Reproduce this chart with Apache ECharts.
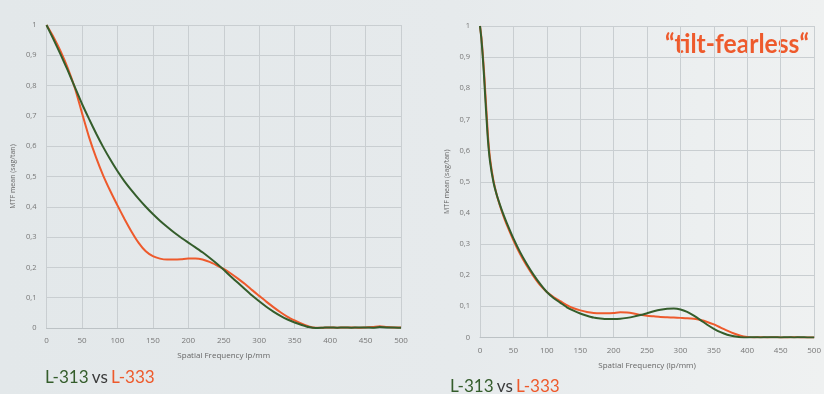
<!DOCTYPE html>
<html><head><meta charset="utf-8">
<script src="https://cdn.jsdelivr.net/npm/echarts@6/dist/echarts.min.js"></script>
<style>html,body{margin:0;padding:0;background:#e6eaec}#c{width:824px;height:394px}</style>
</head><body><div id="c"></div>
<script>
// Left chart: spatial frequency (lp/mm)
const xLeft = [0,10,20,30,40,50,60,70,80,90,100,110,120,130,140,150,160,170,180,190,200,210,220,230,240,250,260,270,280,290,300,310,320,330,340,350,360,370,380,390,400,410,420,430,440,450,460,470,480,490,500];
const leftL313 = [1.0,0.952,0.902,0.85,0.795,0.74,0.69,0.642,0.597,0.556,0.518,0.484,0.454,0.426,0.4,0.376,0.354,0.334,0.315,0.298,0.282,0.266,0.25,0.232,0.213,0.192,0.17,0.149,0.128,0.107,0.088,0.07,0.054,0.04,0.028,0.018,0.01,0.003,0.0,0.001,0.002,0.001,0.002,0.001,0.002,0.002,0.001,0.003,0.002,0.002,0.001];
const leftL333 = [1.0,0.96,0.913,0.858,0.792,0.71,0.63,0.562,0.503,0.452,0.405,0.36,0.318,0.281,0.253,0.237,0.229,0.226,0.226,0.227,0.229,0.229,0.226,0.218,0.207,0.195,0.18,0.163,0.145,0.125,0.106,0.087,0.069,0.052,0.037,0.025,0.014,0.005,0.001,0.001,0.002,0.001,0.002,0.002,0.001,0.002,0.003,0.006,0.003,0.002,0.002];
// Right chart ("tilt-fearless")
const xRight = [0,2,4,6,8,10,12,15,20,25,30,35,40,50,60,70,80,90,100,110,120,130,140,150,160,170,180,190,200,210,220,230,240,250,260,270,280,290,300,310,320,330,340,350,360,370,380,390,400,410,420,430,440,450,460,470,480,490,500];
const rightL313 = [1.0,0.96,0.905,0.84,0.765,0.695,0.63,0.565,0.5,0.458,0.425,0.395,0.368,0.318,0.274,0.236,0.202,0.172,0.146,0.127,0.112,0.097,0.086,0.077,0.07,0.064,0.061,0.059,0.059,0.06,0.063,0.067,0.072,0.078,0.084,0.089,0.092,0.093,0.09,0.082,0.07,0.056,0.041,0.028,0.017,0.009,0.004,0.001,0.0,0.001,0.0,0.001,0.001,0.0,0.001,0.0,0.001,0.0,0.0];
const rightL333 = [1.0,0.965,0.915,0.855,0.785,0.715,0.645,0.575,0.505,0.458,0.422,0.39,0.362,0.312,0.268,0.23,0.197,0.168,0.146,0.13,0.117,0.104,0.094,0.087,0.082,0.079,0.078,0.078,0.079,0.081,0.08,0.077,0.073,0.07,0.068,0.066,0.065,0.064,0.063,0.062,0.06,0.056,0.05,0.042,0.032,0.022,0.013,0.006,0.002,0.0,0.001,0.0,0.001,0.0,0.0,0.001,0.0,0.0,0.0];
const xTicks = [0,50,100,150,200,250,300,350,400,450,500];
const seriesNames = ['L-313','L-333'];
const yTitle = 'MTF mean (sag/tan)';
const xTitleLeft = 'Spatial Frequency lp/mm';
const xTitleRight = 'Spatial Frequency (lp/mm)';

const GREEN = '#345d2b', RED = '#ee5a2c';
const chart = echarts.init(document.getElementById('c'));
const pairs = (xs, ys) => xs.map((x, i) => [x, ys[i]]);
const gridCol = '#c9ced1';
function xAx(idx, name){
  return {type:'value', gridIndex:idx, min:xTicks[0], max:xTicks[xTicks.length-1], interval:xTicks[1]-xTicks[0], name:name, nameLocation:'middle', nameGap:24,
    nameTextStyle:{fontSize:8, color:'#666', fontFamily:'Open Sans'},
    axisLine:{show:true, lineStyle:{color:'#bcc2c5'}}, axisTick:{show:false},
    axisLabel:{fontSize:8, color:'#777', margin:9, fontFamily:'Open Sans'},
    splitLine:{show:true, lineStyle:{color:gridCol, width:1}}};
}
function yAx(idx){
  return {type:'value', gridIndex:idx, min:0, max:1, interval:0.1, name:yTitle, nameLocation:'middle', nameGap:30, nameRotate:90,
    nameTextStyle:{fontSize:7, color:'#666', fontFamily:'Open Sans'},
    axisLine:{show:false}, axisTick:{show:false},
    axisLabel:{fontSize:7.5, color:'#777', margin:10, fontFamily:'Open Sans', formatter:v => String(+v.toFixed(1)).replace('.', ',')},
    splitLine:{show:true, lineStyle:{color:gridCol, width:1}}};
}
function ln(name, xi, data, color){
  return {type:'line', name:name, xAxisIndex:xi, yAxisIndex:xi, data:data, showSymbol:false, smooth:0.2,
    lineStyle:{color:color, width:2}, itemStyle:{color:color}};
}
const legendRich = {g:{fill:GREEN,fontSize:18,fontFamily:'Lato'},k:{fill:'#3a3a3a',fontSize:18,fontFamily:'Lato'},r:{fill:RED,fontSize:18,fontFamily:'Lato'}};
chart.setOption({
  backgroundColor: new echarts.graphic.LinearGradient(0,0,1,0,[
    {offset:0, color:'#e3e8ea'},{offset:0.55, color:'#e6eaec'},{offset:0.85, color:'#eceff0'},{offset:1, color:'#eff1f1'}]),
  animation:false,
  grid:[{left:46.5, top:25, width:354.5, height:303},{left:480, top:26, width:338, height:311.5}],
  xAxis:[xAx(0, xTitleLeft), xAx(1, xTitleRight)],
  yAxis:[yAx(0), yAx(1)],
  series:[
    ln(seriesNames[1], 0, pairs(xLeft, leftL333), RED),
    ln(seriesNames[0], 0, pairs(xLeft, leftL313), GREEN),
    ln(seriesNames[1], 1, pairs(xRight, rightL333), RED),
    ln(seriesNames[0], 1, pairs(xRight, rightL313), GREEN)
  ],
  graphic:[
    {type:'text', x:45, y:368, scaleX:0.95, style:{rich:legendRich, text:'{g|'+seriesNames[0]+'} {k|vs} {r|'+seriesNames[1]+'}'}},
    {type:'text', x:450, y:377, scaleX:0.95, style:{rich:legendRich, text:'{g|'+seriesNames[0]+'} {k|vs} {r|'+seriesNames[1]+'}'}},
    {type:'text', x:665, y:32, scaleX:0.95, style:{text:'\u201Ctilt-fearless\u201C', fill:RED, fontSize:26, fontWeight:'bold', fontFamily:'Lato'}}
  ]
});
</script></body></html>
